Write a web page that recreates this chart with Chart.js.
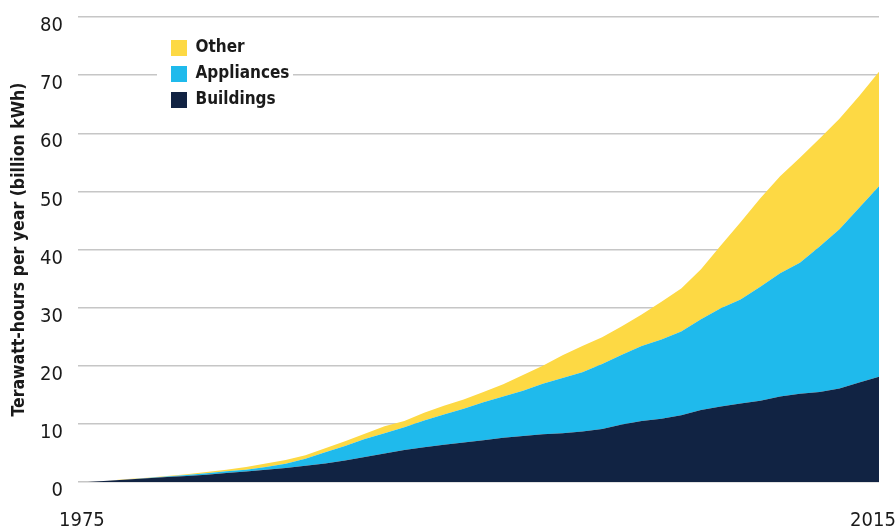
<!DOCTYPE html>
<html>
<head>
<meta charset="utf-8">
<script src="https://cdn.jsdelivr.net/npm/chart.js@4.4.1/dist/chart.umd.min.js"></script>
<style>
  html, body { margin: 0; background: #fff; }
  canvas { display: block; }
</style>
</head>
<body>
<canvas id="chart" width="895" height="529"></canvas>
<script>
// years along the x axis, one point per year
const years = [1975, 1976, 1977, 1978, 1979, 1980, 1981, 1982, 1983, 1984,
  1985, 1986, 1987, 1988, 1989, 1990, 1991, 1992, 1993, 1994,
  1995, 1996, 1997, 1998, 1999, 2000, 2001, 2002, 2003, 2004,
  2005, 2006, 2007, 2008, 2009, 2010, 2011, 2012, 2013, 2014, 2015];

// only the two end years get a label
const xTicks = [1975, 2015];

// layer values in TWh (stacked: buildings, then appliances, then other)
const buildings = [0, 0.2, 0.45, 0.65, 0.85, 1.05, 1.25, 1.55, 1.8, 2.1,
  2.4, 2.8, 3.2, 3.7, 4.3, 4.9, 5.5, 6.0, 6.4, 6.8,
  7.2, 7.6, 7.9, 8.2, 8.4, 8.7, 9.1, 9.9, 10.5, 10.9,
  11.5, 12.4, 13.0, 13.5, 14.0, 14.7, 15.2, 15.5, 16.1, 17.1, 18.1];
const appliances = [0, 0, 0, 0.05, 0.1, 0.15, 0.25, 0.3, 0.3, 0.5,
  0.75, 1.2, 1.9, 2.5, 3.1, 3.5, 3.9, 4.6, 5.2, 5.8,
  6.5, 7.1, 7.8, 8.7, 9.5, 10.2, 11.2, 12.0, 12.9, 13.6,
  14.4, 15.6, 16.9, 17.9, 19.6, 21.2, 22.5, 25.0, 27.4, 30.1, 32.8];
const other = [0, 0, 0.05, 0.05, 0.1, 0.15, 0.2, 0.25, 0.5, 0.6,
  0.65, 0.6, 0.7, 0.8, 0.9, 1.2, 1.1, 1.3, 1.5, 1.6,
  1.8, 2.1, 2.7, 3.1, 3.9, 4.5, 4.6, 4.9, 5.4, 6.5,
  7.4, 8.6, 10.8, 13.3, 15.2, 16.7, 18.1, 18.6, 19.0, 19.2, 19.7];

const narrow = "'Liberation Sans Narrow', 'DejaVu Sans Condensed', 'Arial Narrow', sans-serif";
const ink = '#1a1a1a';

function pts(vals) {
  return years.map((y, i) => ({ x: y, y: vals[i] }));
}

function layer(label, vals, color, fill) {
  return {
    label: label,
    data: pts(vals),
    backgroundColor: color,
    borderColor: color,
    borderWidth: 0,
    pointRadius: 0,
    fill: fill,
    tension: 0
  };
}

// move the legend to the upper left of the plot and give it a white patch
const legendSpot = {
  id: 'legendSpot',
  afterLayout(chart) {
    const lg = chart.legend;
    if (!lg) return;
    lg.left = 162; lg.top = 30.5;
    lg.width = 140; lg.height = 90;
    lg.right = lg.left + lg.width;
    lg.bottom = lg.top + lg.height;
  },
  beforeDatasetsDraw(chart) {
    const lg = chart.legend;
    const c = chart.ctx;
    c.save();
    c.fillStyle = '#fff';
    c.fillRect(lg.left - 5, lg.top + 6, 136, 76);
    c.restore();
    lg.draw();
  }
};

new Chart(document.getElementById('chart'), {
  type: 'line',
  data: {
    datasets: [
      layer('Buildings', buildings, '#112343', 'origin'),
      layer('Appliances', appliances, '#1fbaec', '-1'),
      layer('Other', other, '#fdd944', '-1')
    ]
  },
  options: {
    responsive: false,
    animation: false,
    devicePixelRatio: 1,
    layout: { padding: { top: 17, right: 16, left: 0, bottom: 0 } },
    plugins: {
      tooltip: { enabled: false },
      legend: {
        position: 'chartArea',
        align: 'start',
        reverse: true,
        labels: {
          boxWidth: 16,
          boxHeight: 16,
          padding: 9,
          color: ink,
          font: { family: narrow, size: 17, weight: 'bold' }
        }
      }
    },
    scales: {
      x: {
        type: 'linear',
        min: 1974.5,
        max: 2015,
        grid: { display: false },
        border: { display: false },
        afterBuildTicks: (s) => { s.ticks = xTicks.map(v => ({ value: v })); },
        afterFit: (s) => { s.height = 47; s.paddingLeft = 0; s.paddingRight = 0; },
        ticks: {
          autoSkip: false,
          maxRotation: 0,
          padding: 19,
          labelOffset: -6,
          color: ink,
          font: { family: narrow, size: 20 },
          callback: (v) => String(v)
        }
      },
      y: {
        stacked: true,
        min: 0,
        max: 80,
        border: { display: false },
        grid: { color: '#c6c6c6', lineWidth: 1.5, drawTicks: false },
        afterFit: (s) => { s.width = 78; s.paddingTop = 0; s.paddingBottom = 0; },
        title: {
          display: true,
          text: 'Terawatt-hours per year (billion kWh)',
          color: ink,
          padding: { top: 9, bottom: 0 },
          font: { family: narrow, size: 17.5, weight: 'bold' }
        },
        ticks: {
          stepSize: 10,
          padding: 15,
          labelOffset: 9,
          color: ink,
          font: { family: narrow, size: 20 }
        }
      }
    }
  },
  plugins: [legendSpot]
});
</script>
</body>
</html>
